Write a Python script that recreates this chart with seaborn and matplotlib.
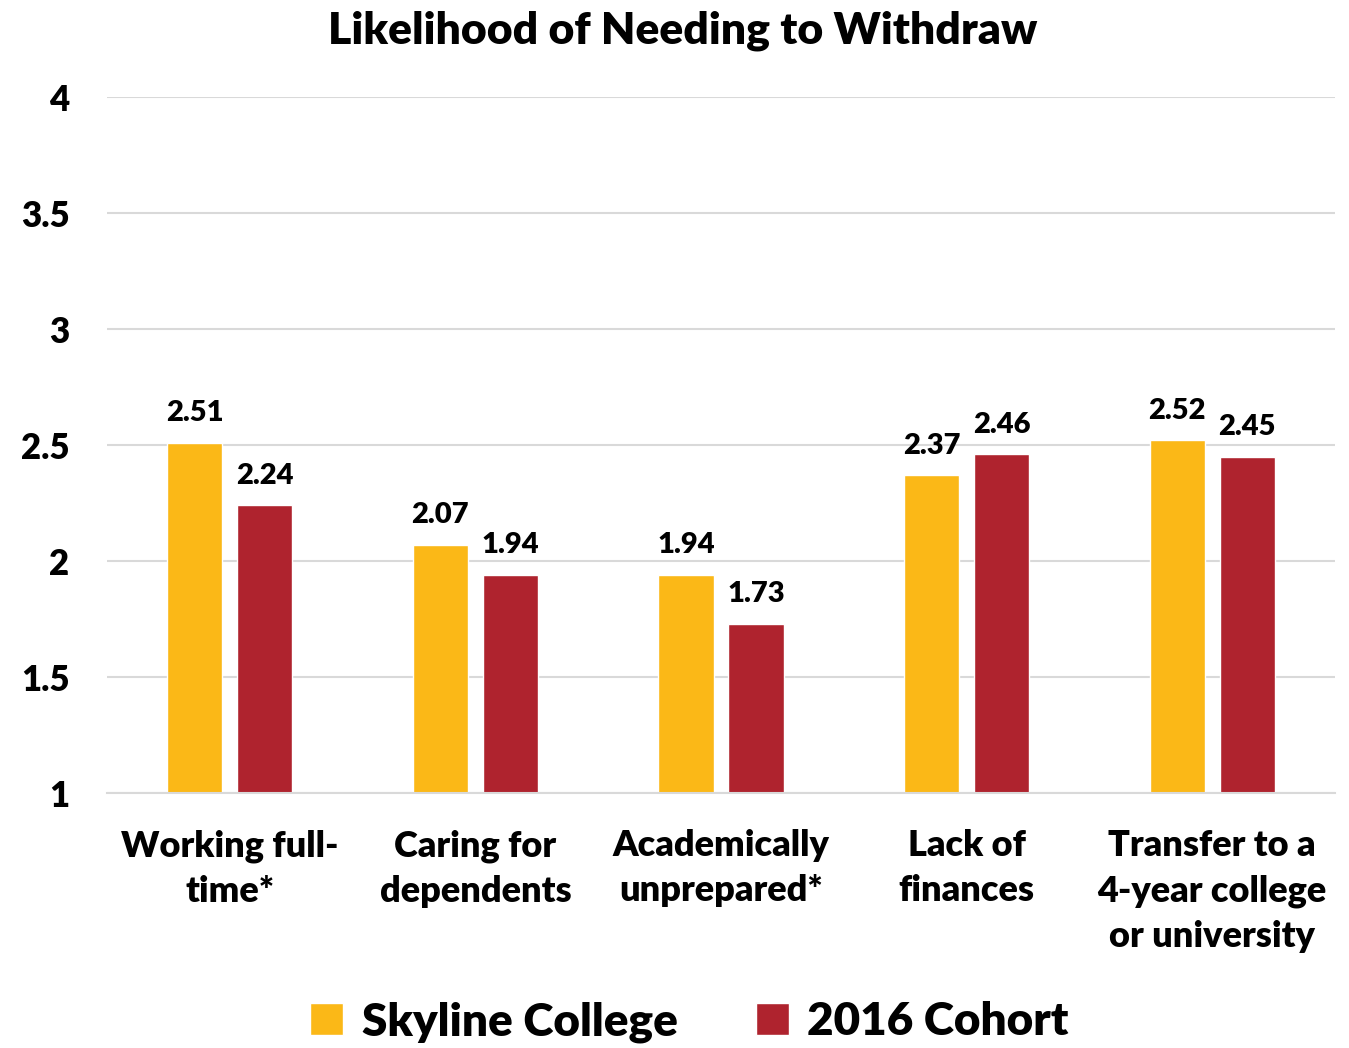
import pandas as pd
import matplotlib.pyplot as plt
import seaborn as sns

categories = ["Working full-\ntime*", "Caring for\ndependents", "Academically\nunprepared*",
              "Lack of\nfinances", "Transfer to a\n4-year college\nor university"]
skyline = [2.51, 2.07, 1.94, 2.37, 2.52]
cohort = [2.24, 1.94, 1.73, 2.46, 2.45]
series = ["Skyline College", "2016 Cohort"]
colors = ["#FBB817", "#AF232E"]

df = pd.DataFrame({
    "category": categories * 2,
    "group": [series[0]] * 5 + [series[1]] * 5,
    "value": skyline + cohort,
})

sns.set_style("white")
plt.rcParams["font.family"] = ["Lato", "DejaVu Sans"]
plt.rcParams["font.weight"] = "heavy"
plt.rcParams["text.color"] = "black"
plt.rcParams["xtick.color"] = "black"
plt.rcParams["ytick.color"] = "black"

fig = plt.figure(figsize=(13.49, 10.48), dpi=100)
ax = fig.add_axes([0.0793, 0.2433, 0.9103, 0.6641])

sns.barplot(data=df, x="category", y="value", hue="group", palette=colors,
            width=0.57, gap=0.21, saturation=1, ax=ax)

for cont in ax.containers:
    ax.bar_label(cont, fmt="%.2f", padding=12, fontsize=21, fontweight="heavy")

ax.set_ylim(1, 4)
ax.set_xlim(-0.5, 4.5)
ax.set_yticks([1, 1.5, 2, 2.5, 3, 3.5, 4])
ax.set_yticklabels(["1", "1.5", "2", "2.5", "3", "3.5", "4"])
ax.yaxis.grid(True, color="#D9D9D9", linewidth=1.5)
ax.set_axisbelow(True)
for s in ["top", "right", "left"]:
    ax.spines[s].set_visible(False)
ax.spines["bottom"].set_color("#D9D9D9")
ax.spines["bottom"].set_linewidth(1.5)
ax.tick_params(axis="y", length=0, pad=27, labelsize=25)
ax.tick_params(axis="x", length=0, pad=26, labelsize=26)
for lab in ax.get_xticklabels() + ax.get_yticklabels():
    lab.set_fontweight("heavy")
for lab in ax.get_xticklabels():
    lab.set_linespacing(1.45)
ax.set_xlabel("")
ax.set_ylabel("")
ax.get_legend().remove()

fig.text(0.506, 0.971, "Likelihood of Needing to Withdraw", fontsize=32,
         fontweight="heavy", ha="center", va="center")

handles, labels = ax.get_legend_handles_labels()
fig.legend(handles, labels, loc="center", bbox_to_anchor=(0.511, 0.025), ncol=2,
           frameon=False, handlelength=0.72, handleheight=0.72,
           handletextpad=0.4, columnspacing=1.7, prop={"weight": "heavy", "size": 33})

fig.savefig("out.png", dpi=100)
